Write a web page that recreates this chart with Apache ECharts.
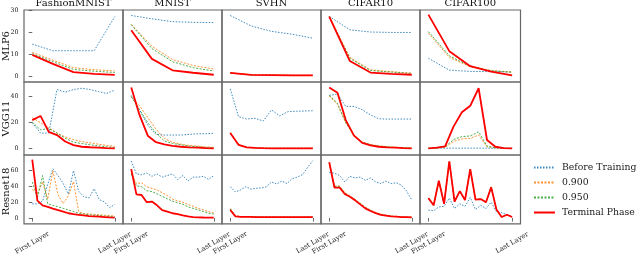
<!DOCTYPE html>
<html><head><meta charset="utf-8">
<script src="https://cdn.jsdelivr.net/npm/echarts@6/dist/echarts.min.js"></script>
<style>html,body{margin:0;padding:0;background:#fff}#c{width:640px;height:257px}</style>
</head><body><div id="c"></div><script>
const datasets = ['FashionMNIST','MNIST','SVHN','CIFAR10','CIFAR100'];
const models = ['MLP6','VGG11','Resnet18'];
const seriesNames = ['Before Training','0.900','0.950','Terminal Phase'];
const xTickLabels = ['First Layer','Last Layer'];
const yTicksMLP6 = [0,10,20,30];
const yTicksVGG11 = [0,20,40];
const yTicksResnet18 = [0,20,40,60];

// ---- MLP6 ----
const mlp6_fashion_before = [14.5, 11.5, 11.5, 11.5, 27];
const mlp6_fashion_900 = [10.8, 7.2, 3.8, 2.9, 2.3];
const mlp6_fashion_950 = [10.2, 6.5, 3.0, 2.2, 1.6];
const mlp6_fashion_term = [9.6, 5.5, 1.8, 1.0, 0.5];
const mlp6_mnist_before = [27.5, 26, 24.7, 24.4, 24.3];
const mlp6_mnist_900 = [23.5, 13.5, 7.5, 4.8, 3.2];
const mlp6_mnist_950 = [23.3, 12.5, 6.5, 3.8, 2.3];
const mlp6_mnist_term = [20.8, 7.8, 2.6, 1.5, 0.6];
const mlp6_svhn_before = [27.5, 22.8, 20.3, 19.0, 17.2];
const mlp6_svhn_900 = [1.5, 0.6, 0.5, 0.4, 0.4];
const mlp6_svhn_950 = [1.4, 0.5, 0.4, 0.3, 0.3];
const mlp6_svhn_term = [1.4, 0.5, 0.4, 0.3, 0.3];
const mlp6_cifar10_before = [27.1, 21, 20, 19.8, 19.8];
const mlp6_cifar10_900 = [27, 8.5, 2.8, 2.0, 1.3];
const mlp6_cifar10_950 = [27, 8.0, 2.5, 1.8, 1.2];
const mlp6_cifar10_term = [27, 6.8, 1.6, 1.0, 0.6];
const mlp6_cifar100_before = [8.1, 2.7, 2.1, 2.0, 1.9];
const mlp6_cifar100_900 = [19.5, 8.5, 4.2, 2.5, 1.8];
const mlp6_cifar100_950 = [20.2, 9.2, 4.4, 2.4, 1.7];
const mlp6_cifar100_term = [27.9, 11.3, 4.5, 2.0, 0.3];

// ---- VGG11 ----
const vgg11_fashion_before = [20, 12, 12, 45.5, 43.5, 45.5, 46.5, 45.5, 44, 42.5, 45];
const vgg11_fashion_900 = [23.8, 20, 16, 12, 9, 7, 5.5, 4.5, 3.5, 2.5, 1.8];
const vgg11_fashion_950 = [20.5, 14.5, 15.5, 12, 8, 5, 4, 3, 2.2, 1.5, 0.8];
const vgg11_fashion_term = [22, 25.2, 13, 10.5, 5.5, 2.8, 1.5, 1.1, 0.8, 0.5, 0.3];
const vgg11_mnist_before = [41, 30, 18, 11, 10.5, 10.5, 10.5, 11, 11.5, 11.5, 11.8];
const vgg11_mnist_900 = [40, 33, 24, 15, 8, 5, 3.5, 2.5, 2, 1.5, 1];
const vgg11_mnist_950 = [40, 30, 20, 12, 6, 4, 3, 2, 1.5, 1, 0.7];
const vgg11_mnist_term = [47, 26, 10, 5, 3.3, 2.2, 1.5, 1, 0.8, 0.5, 0.3];
const vgg11_svhn_before = [46, 24.6, 22.8, 23.4, 21.3, 29.8, 25.2, 28.5, 28.8, 29, 29.2];
const vgg11_svhn_900 = [12.5, 3.5, 1.2, 0.7, 0.5, 0.4, 0.4, 0.4, 0.4, 0.4, 0.4];
const vgg11_svhn_950 = [12, 3, 1, 0.6, 0.4, 0.3, 0.3, 0.3, 0.3, 0.3, 0.3];
const vgg11_svhn_term = [12, 3, 1, 0.6, 0.4, 0.3, 0.3, 0.3, 0.3, 0.3, 0.3];
const vgg11_cifar10_before = [41, 42, 32.5, 32.5, 30, 26, 23, 22.8, 22.8, 22.8, 22.8];
const vgg11_cifar10_900 = [40.5, 34, 20, 10.5, 5.2, 3.2, 2.1, 1.6, 1.1, 0.8, 0.5];
const vgg11_cifar10_950 = [41, 35, 20, 10, 5, 3, 2, 1.5, 1, 0.8, 0.5];
const vgg11_cifar10_term = [47, 43, 22, 10, 4.5, 2.5, 1.5, 1, 0.8, 0.5, 0.3];
const vgg11_cifar100_before = [0.5, 0.4, 0.4, 0.4, 0.4, 0.4, 0.4, 0.4, 0.3, 0.3, 0.3];
const vgg11_cifar100_900 = [0.2, 0.5, 1.2, 5.5, 7.5, 8, 10.5, 1.5, 0.6, 0.3, 0.2];
const vgg11_cifar100_950 = [0.2, 0.5, 1.5, 7, 9.3, 9.8, 13, 2, 0.8, 0.4, 0.3];
const vgg11_cifar100_term = [0.3, 0.8, 1.8, 17, 28, 33, 46.5, 6.7, 1.5, 0.5, 0.3];

// ---- Resnet18 ----
const res18_fashion_before = [17.7, 17.5, 21, 42, 61.5, 53, 43, 30, 59, 33.5, 26.5, 25, 36.5, 23, 20, 13, 17];
const res18_fashion_900 = [35.4, 30, 45, 23.6, 59, 29, 18, 27.6, 45.3, 8, 5.5, 5, 4.5, 4, 3.5, 3, 2.5];
const res18_fashion_950 = [45, 25, 53, 17.7, 15.8, 14, 12, 10, 8, 6, 5, 4, 3.5, 3, 2.5, 2, 1.5];
const res18_fashion_term = [72.8, 21.7, 15.8, 13.9, 11.8, 9.9, 7.9, 5.9, 4.8, 4, 3.2, 2.4, 2, 1.6, 1.2, 0.8, 0.5];
const res18_mnist_before = [71, 55, 54, 56, 52, 55, 51, 53, 55, 48, 53, 46, 51, 51, 52, 48, 53];
const res18_mnist_900 = [57, 43, 44, 39, 37, 35, 31.5, 28, 23.6, 21.5, 19.7, 17, 14.6, 12, 10, 7.9, 6.2];
const res18_mnist_950 = [55, 40, 39, 34, 33, 30, 27, 24, 21, 19, 17, 14, 12, 10, 8, 6, 4.8];
const res18_mnist_term = [61, 29.5, 28.7, 19.7, 20.5, 15.8, 9.9, 7.9, 5.9, 4.8, 3.2, 2, 1.2, 0.8, 0.6, 0.5, 0.4];
const res18_svhn_before = [39, 32.5, 35, 39, 36, 37, 37.5, 39, 45, 42.5, 46, 43, 49, 51, 54, 63, 71.5];
const res18_svhn_900 = [12, 3, 1.8, 1.6, 1.5, 1.4, 1.4, 1.3, 1.3, 1.2, 1.2, 1.2, 1.2, 1.2, 1.2, 1.2, 1.2];
const res18_svhn_950 = [11, 2.5, 1.6, 1.5, 1.4, 1.3, 1.3, 1.2, 1.2, 1.1, 1.1, 1.1, 1.1, 1.1, 1.1, 1.1, 1.1];
const res18_svhn_term = [10, 2, 1.5, 1.4, 1.3, 1.2, 1.2, 1.1, 1.1, 1, 1, 1, 1, 1, 1, 1, 1];
const res18_cifar10_before = [57, 56, 53, 45, 52, 50, 51, 47, 50, 45, 43, 46, 43, 44, 41, 33.5, 22.4];
const res18_cifar10_900 = [69.5, 40, 40, 32, 28, 23.5, 18.5, 13.5, 10, 7, 5, 3.5, 2.5, 2, 1.5, 1.2, 1];
const res18_cifar10_950 = [69, 39, 39.5, 31, 27, 23, 18, 13, 9.5, 6.5, 4.5, 3.2, 2.3, 1.8, 1.4, 1.1, 0.9];
const res18_cifar10_term = [69.5, 38, 38, 30, 26.5, 22, 17, 12, 8.7, 6, 4, 3, 2, 1.6, 1.2, 1, 0.8];
const res18_cifar100_before = [9.9, 9.1, 13.8, 14.6, 24.8, 11.8, 17.7, 14.6, 25.6, 10.6, 15.8, 11.8, 19.7, 7.9, 6.7, 4, 2];
const res18_cifar100_900 = [24.8, 15.8, 46.4, 17.7, 70.8, 20.5, 33.5, 22.4, 61, 23.5, 24, 19.7, 39, 10.6, 1.2, 4, 1.2];
const res18_cifar100_950 = [24.8, 15.8, 46.4, 17.7, 70.8, 20.5, 33.5, 22.4, 61, 22.8, 23.6, 19.7, 38.2, 10.6, 1.2, 4, 1.2];
const res18_cifar100_term = [24.8, 15.8, 46.4, 17.7, 70.8, 20.5, 33.5, 22.4, 61, 22.8, 23.6, 19.7, 38.2, 10.6, 1.2, 4, 1.2];

const panels = [
  [
    [mlp6_fashion_before, mlp6_fashion_900, mlp6_fashion_950, mlp6_fashion_term],
    [mlp6_mnist_before, mlp6_mnist_900, mlp6_mnist_950, mlp6_mnist_term],
    [mlp6_svhn_before, mlp6_svhn_900, mlp6_svhn_950, mlp6_svhn_term],
    [mlp6_cifar10_before, mlp6_cifar10_900, mlp6_cifar10_950, mlp6_cifar10_term],
    [mlp6_cifar100_before, mlp6_cifar100_900, mlp6_cifar100_950, mlp6_cifar100_term]
  ],
  [
    [vgg11_fashion_before, vgg11_fashion_900, vgg11_fashion_950, vgg11_fashion_term],
    [vgg11_mnist_before, vgg11_mnist_900, vgg11_mnist_950, vgg11_mnist_term],
    [vgg11_svhn_before, vgg11_svhn_900, vgg11_svhn_950, vgg11_svhn_term],
    [vgg11_cifar10_before, vgg11_cifar10_900, vgg11_cifar10_950, vgg11_cifar10_term],
    [vgg11_cifar100_before, vgg11_cifar100_900, vgg11_cifar100_950, vgg11_cifar100_term]
  ],
  [
    [res18_fashion_before, res18_fashion_900, res18_fashion_950, res18_fashion_term],
    [res18_mnist_before, res18_mnist_900, res18_mnist_950, res18_mnist_term],
    [res18_svhn_before, res18_svhn_900, res18_svhn_950, res18_svhn_term],
    [res18_cifar10_before, res18_cifar10_900, res18_cifar10_950, res18_cifar10_term],
    [res18_cifar100_before, res18_cifar100_900, res18_cifar100_950, res18_cifar100_term]
  ]
];

const FONT = 'DejaVu Serif';
const colLeft = [24, 123, 222, 321, 420];
const colWidth = [99, 99, 99, 99, 100.5];
const rowTop = [10, 82, 155];
const rowHeight = [72, 73, 73];
const rowRange = [[-2.7, 30.0], [-4.85, 51.3], [-7.4, 78.6]];
const rowTicks = [yTicksMLP6, yTicksVGG11, yTicksResnet18];

const styles = [
  {color: '#1f77b4', width: 1, type: [1.5, 1.5], opacity: 0.85},
  {color: '#ff7f0e', width: 1, type: [2, 1.5], opacity: 0.85},
  {color: '#2ca02c', width: 1, type: [2, 1.5], opacity: 0.85},
  {color: '#ff0000', width: 1.8, type: 'solid', opacity: 1}
];

const grids = [], xAxes = [], yAxes = [], series = [];
let idx = 0;
for (let r = 0; r < 3; r++) {
  for (let c = 0; c < 5; c++) {
    grids.push({left: colLeft[c], top: rowTop[r], width: colWidth[c], height: rowHeight[r],
      show: true, borderColor: '#666', borderWidth: 1.2, backgroundColor: 'transparent'});
    const bottom = r === 2;
    xAxes.push({type: 'value', gridIndex: idx, min: -0.1, max: 1.1,
      axisLine: {show: false}, splitLine: {show: false},
      axisTick: {show: bottom, customValues: [0, 1], length: 3.5, lineStyle: {color: '#444', width: 0.8}},
      axisLabel: {show: bottom, customValues: [0, 1], rotate: 30, align: 'center', verticalAlign: 'middle',
        margin: 19, fontSize: 6.8, fontFamily: FONT, color: '#222',
        formatter: v => (v < 0.5 ? xTickLabels[0] : xTickLabels[1])}
    });
    const first = c === 0;
    yAxes.push({type: 'value', gridIndex: idx, min: rowRange[r][0], max: rowRange[r][1],
      axisLine: {show: false}, splitLine: {show: false},
      axisTick: {show: first, customValues: rowTicks[r], length: 3.5, lineStyle: {color: '#444', width: 0.8}},
      axisLabel: {show: first, customValues: rowTicks[r], margin: 5.5, fontSize: 6.3, fontFamily: FONT, color: '#222'}
    });
    panels[r][c].forEach((arr, s) => {
      series.push({type: 'line', name: seriesNames[s], xAxisIndex: idx, yAxisIndex: idx,
        symbol: 'none', z: 2 + s, silent: true,
        lineStyle: styles[s], itemStyle: {color: styles[s].color},
        data: arr.map((v, i) => [i / (arr.length - 1), v])});
    });
    idx++;
  }
}

const graphics = [];
datasets.forEach((d, c) => {
  graphics.push({type: 'text', x: colLeft[c] + colWidth[c] / 2, y: 3,
    style: {text: d, fontFamily: FONT, fontSize: 10, fill: '#111', align: 'center', verticalAlign: 'middle'}});
});
models.forEach((m, r) => {
  graphics.push({type: 'text', x: 6, y: rowTop[r] + rowHeight[r] / 2, rotation: Math.PI / 2,
    style: {text: m, fontFamily: FONT, fontSize: 10, fill: '#111', align: 'center', verticalAlign: 'middle'}});
});

const chart = echarts.init(document.getElementById('c'), null, {renderer: 'canvas'});
chart.setOption({
  animation: false,
  backgroundColor: '#fff',
  grid: grids, xAxis: xAxes, yAxis: yAxes, series: series,
  legend: {data: seriesNames, orient: 'vertical', left: 528, top: 157.5, padding: 5,
    itemWidth: 21, itemHeight: 10, itemGap: 5,
    itemStyle: {opacity: 0, borderWidth: 0},
    textStyle: {fontFamily: FONT, fontSize: 9.3, color: '#222', lineHeight: 10, padding: [0, 0, 0, 2]}},
  graphic: graphics
});
</script></body></html>
